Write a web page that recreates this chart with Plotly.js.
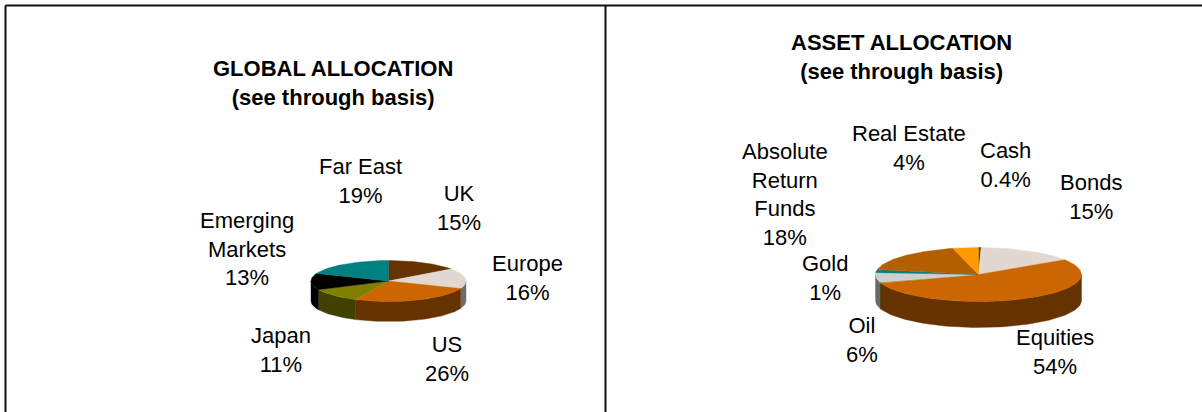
<!DOCTYPE html>
<html>
<head>
<meta charset="utf-8">
<script src="https://cdn.plot.ly/plotly-3.0.1.min.js"></script>
<style>html,body{margin:0;padding:0;background:#fff;overflow:hidden}#chart{width:1202px;height:412px}</style>
</head>
<body>
<div id="chart"></div>
<script>
// ---- Data ----
var globalNames  = ["UK", "Europe", "US", "Japan", "Emerging<br>Markets", "Far East"];
var globalValues = [15, 16, 26, 11, 13, 19];
var globalLabels = ["15%", "16%", "26%", "11%", "13%", "19%"];

var assetNames  = ["Cash", "Bonds", "Equities", "", "Oil", "Gold", "Absolute<br>Return<br>Funds", "Real Estate"];
var assetValues = [0.4, 15.4, 54, 0.5, 5.8, 1.8, 18.1, 4];
var assetLabels = ["0.4%", "15%", "54%", "", "6%", "1%", "18%", "4%"];

// ---- Styles and layout ----
var globalTop  = ["#663300", "#E3D8CF", "#CC6600", "#808000", "#000000", "#008080"];
var globalSide = ["#331A00", "#716C67", "#663300", "#404000", "#000000", "#004040"];
var assetTop   = ["#663300", "#E3D8CF", "#CC6600", "#808000", "#CFCFCF", "#008080", "#B35F00", "#FF9900"];
var assetSide  = ["#331A00", "#716C67", "#663300", "#404000", "#696969", "#004040", "#5A3000", "#804D00"];

var globalPie = {cx: 388.5, cy: 281, rx: 77.5, ry: 20.5, depth: 20};
var assetPie  = {cx: 978.5, cy: 274.5, rx: 103, ry: 27, depth: 26};

var globalLabelX = [459, 527, 447, 281, 247, 360];
var globalLabelY = [207.5, 278, 359, 350, 249, 181];
var assetLabelX  = [1005, 1091, 1055, 0, 862, 825, 785, 909];
var assetLabelY  = [164.5, 196.5, 352, 0, 339.5, 277.5, 194.5, 147.5];

var FONT = "Liberation Sans, Arial, sans-serif";
var traces = [], annotations = [];

function pt(p, deg, drop) {
  var a = deg * Math.PI / 180;
  return [p.cx + p.rx * Math.sin(a), p.cy - p.ry * Math.cos(a) + (drop || 0)];
}
function addPoly(xs, ys, color) {
  traces.push({type: "scatter", mode: "lines", x: xs, y: ys, fill: "toself", fillcolor: color,
    line: {color: color, width: 0.4}, hoverinfo: "skip", showlegend: false});
}
function drawPie(p, values, topCols, sideCols) {
  var total = values.reduce(function (s, v) { return s + v; }, 0);
  var start = 0, spans = [];
  values.forEach(function (v) { spans.push([start, start + v / total * 360]); start += v / total * 360; });
  // outer wall: only the front half is visible
  spans.forEach(function (sp, i) {
    var a0 = Math.max(sp[0], 90), a1 = Math.min(sp[1], 270);
    if (a1 <= a0) return;
    var xs = [], ys = [], n = Math.max(2, Math.ceil((a1 - a0) / 2)), k, q;
    for (k = 0; k <= n; k++) { q = pt(p, a0 + (a1 - a0) * k / n, 0); xs.push(q[0]); ys.push(q[1]); }
    for (k = n; k >= 0; k--) { q = pt(p, a0 + (a1 - a0) * k / n, p.depth); xs.push(q[0]); ys.push(q[1]); }
    xs.push(xs[0]); ys.push(ys[0]);
    addPoly(xs, ys, sideCols[i]);
  });
  // top face
  spans.forEach(function (sp, i) {
    var xs = [p.cx], ys = [p.cy], n = Math.max(2, Math.ceil((sp[1] - sp[0]) / 2)), k, q;
    for (k = 0; k <= n; k++) { q = pt(p, sp[0] + (sp[1] - sp[0]) * k / n, 0); xs.push(q[0]); ys.push(q[1]); }
    xs.push(p.cx); ys.push(p.cy);
    addPoly(xs, ys, topCols[i]);
  });
}
function addText(x, y, text) {
  annotations.push({xref: "x", yref: "y", x: x, y: y, text: text, showarrow: false, align: "center",
    xanchor: "center", yanchor: "middle",
    font: {family: FONT, size: 22, color: "#000000"}});
}
drawPie(globalPie, globalValues, globalTop, globalSide);
drawPie(assetPie, assetValues, assetTop, assetSide);

globalNames.forEach(function (n, i) { addText(globalLabelX[i], globalLabelY[i], n + "<br>" + globalLabels[i]); });
assetNames.forEach(function (n, i) { if (n) addText(assetLabelX[i], assetLabelY[i], n + "<br>" + assetLabels[i]); });
addText(333, 83, "<b>GLOBAL ALLOCATION</b><br><b>(see through basis)</b>");
addText(901, 57, "<b>ASSET ALLOCATION</b><br><b>(see through basis)</b>");

var frame = {color: "#111111", width: 2};
var shapes = [
  {type: "line", xref: "x", yref: "y", x0: 5.5, x1: 1202, y0: 5.5, y1: 5.5, line: frame},
  {type: "line", xref: "x", yref: "y", x0: 5.5, x1: 5.5, y0: 5.5, y1: 412, line: frame},
  {type: "line", xref: "x", yref: "y", x0: 605.5, x1: 605.5, y0: 5.5, y1: 412, line: frame}
];

Plotly.newPlot("chart", traces, {
  width: 1202, height: 412,
  margin: {l: 0, r: 0, t: 0, b: 0},
  paper_bgcolor: "#ffffff", plot_bgcolor: "#ffffff",
  showlegend: false,
  xaxis: {range: [0, 1202], visible: false, fixedrange: true},
  yaxis: {range: [412, 0], visible: false, fixedrange: true},
  annotations: annotations, shapes: shapes
}, {displayModeBar: false, staticPlot: true});
</script>
</body>
</html>
